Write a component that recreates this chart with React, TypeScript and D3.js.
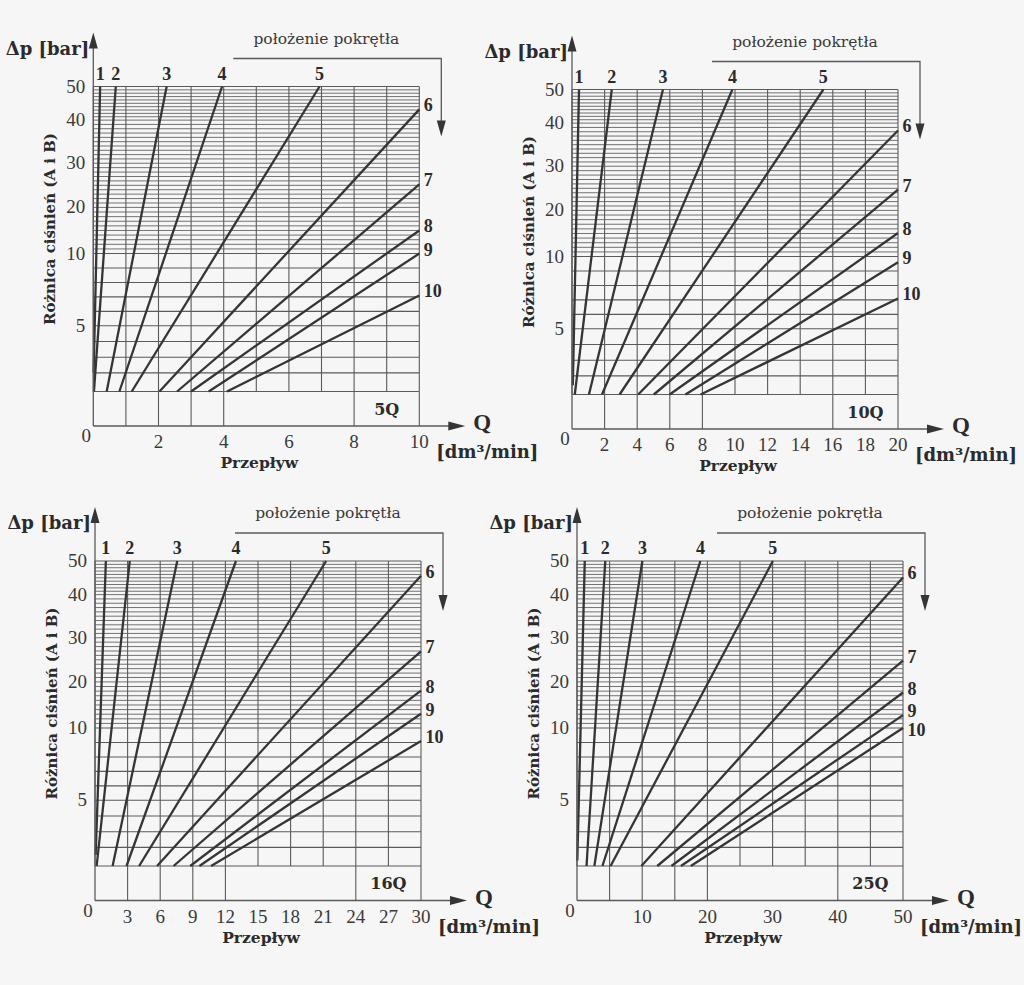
import React from 'react';
import * as d3 from 'd3';

type Pt = [number, number];

// ---------- data ----------
const SETTINGS = ['1', '2', '3', '4', '5', '6', '7', '8', '9', '10'];
const PRESSURE_TICKS = [5, 10, 20, 30, 40, 50];
const PRESSURE_GRID = [1, 2, 3, 4, 5, 6, 7, 8, 9, 10, 11, 12, 13, 14, 15, 16, 17, 18, 19, 20, 21, 22, 23, 24, 25, 26, 27, 28, 29, 30, 31, 32, 33, 34, 35, 36, 37, 38, 39, 40, 41, 42, 43, 44, 45, 46, 47, 48, 49, 50];
const PRESSURE_BREAKS = [1, 2, 5, 10, 20, 30, 40, 50];

const FLOW_TICKS_5Q = [0, 2, 4, 6, 8, 10];
const FLOW_TICKS_10Q = [0, 2, 4, 6, 8, 10, 12, 14, 16, 18, 20];
const FLOW_TICKS_16Q = [0, 3, 6, 9, 12, 15, 18, 21, 24, 27, 30];
const FLOW_TICKS_25Q = [0, 10, 20, 30, 40, 50];

// each setting line: [Q, Δp] start and end points
const LINES_5Q: Pt[][] = [
  [[0.01, 2], [0.21, 50]],
  [[0.02, 1], [0.69, 50]],
  [[0.41, 1], [2.25, 50]],
  [[0.8, 1], [3.95, 50]],
  [[1.18, 1], [6.94, 50]],
  [[2.03, 1], [10, 43.2]],
  [[2.57, 1], [10, 25.2]],
  [[3.0, 1], [10, 15.0]],
  [[3.54, 1], [10, 10.0]],
  [[4.1, 1], [10, 7.1]],
];
const LINES_10Q: Pt[][] = [
  [[0.05, 1.5], [0.43, 50]],
  [[0.17, 1], [2.44, 50]],
  [[1.04, 1], [5.58, 50]],
  [[1.84, 1], [9.84, 50]],
  [[2.92, 1], [15.42, 50]],
  [[4.06, 1], [20, 38.3]],
  [[5.02, 1], [20, 24.7]],
  [[5.99, 1], [20, 15.1]],
  [[6.96, 1], [20, 9.6]],
  [[7.89, 1], [20, 7.1]],
];
const LINES_16Q: Pt[][] = [
  [[0.06, 1.6], [1.0, 50]],
  [[0.15, 1], [3.2, 50]],
  [[1.62, 1], [7.57, 50]],
  [[2.9, 1], [12.97, 50]],
  [[4.06, 1], [21.27, 50]],
  [[5.71, 1], [30, 45.6]],
  [[7.23, 1], [30, 26.9]],
  [[8.76, 1], [30, 18.1]],
  [[9.61, 1], [30, 13.1]],
  [[10.68, 1], [30, 9.1]],
];
const LINES_25Q: Pt[][] = [
  [[0.05, 1.3], [1.19, 50]],
  [[1.46, 1], [4.34, 50]],
  [[2.66, 1], [10.03, 50]],
  [[3.9, 1], [18.93, 50]],
  [[5.15, 1], [30.04, 50]],
  [[9.87, 1], [50, 45.1]],
  [[12.31, 1], [50, 24.8]],
  [[14.48, 1], [50, 17.7]],
  [[15.94, 1], [50, 12.8]],
  [[17.46, 1], [50, 10]],
];

const PANELS = [
  { name: '5Q', qMax: 10, ticks: FLOW_TICKS_5Q, lines: LINES_5Q },
  { name: '10Q', qMax: 20, ticks: FLOW_TICKS_10Q, lines: LINES_10Q },
  { name: '16Q', qMax: 30, ticks: FLOW_TICKS_16Q, lines: LINES_16Q },
  { name: '25Q', qMax: 50, ticks: FLOW_TICKS_25Q, lines: LINES_25Q },
];

// ---------- layout / style ----------
const LAYOUT = [
  { left: 93.3, top: 86.5 },
  { left: 572, top: 89.5 },
  { left: 95, top: 561 },
  { left: 577, top: 561 },
];
const GRID_W = 326;
const GRID_H = 305;
const BOX_H = 34.5;
const BREAK_POS = [1, 0.939, 0.7845, 0.5477, 0.3964, 0.2516, 0.1102, 0];
const BOX_COLS = [1, 2, 3, 4, 8];

const DIGIT_FONT = "'Liberation Serif', 'Times New Roman', serif";
const WORD_FONT = "'DejaVu Serif', serif";
const GRID_COLOR = '#5a5a5a';
const FINE_GRID_COLOR = '#6a6a6a';
const CURVE_COLOR = '#353535';
const TEXT_COLOR = '#2b2b2b';

function Panel({ spec, layout }: { spec: typeof PANELS[number]; layout: { left: number; top: number } }) {
  const { left, top } = layout;
  const right = left + GRID_W;
  const bottom = top + GRID_H;
  const axisY = bottom + BOX_H;
  const x = d3.scaleLinear().domain([0, spec.qMax]).range([left, right]);
  const y = d3
    .scaleLinear()
    .domain(PRESSURE_BREAKS)
    .range(BREAK_POS.map((f) => top + f * GRID_H));
  const cols = d3.range(0, 11).map((i) => (spec.qMax * i) / 10);
  const lineGen = d3
    .line<Pt>()
    .x((d) => x(d[0]))
    .y((d) => y(d[1]));

  const rightLabels: { text: string; cy: number }[] = [];
  let prev = -Infinity;
  spec.lines.forEach((ln, i) => {
    const end = ln[ln.length - 1];
    if (end[1] < 50) {
      const cy = Math.max(y(end[1]) - 4, prev + 19);
      prev = cy;
      rightLabels.push({ text: SETTINGS[i], cy });
    }
  });

  const yArrowTip = top - 54;
  const xArrowTip = right + 46;
  const bracketY = top - 28;
  const bracketX = right + 22;
  const bracketTip = top + 50;

  return (
    <g>
      {PRESSURE_GRID.map((p) => {
        const fine = p > 10 && p < 50;
        return (
          <line
            key={'h' + p}
            x1={left}
            x2={right}
            y1={y(p)}
            y2={y(p)}
            stroke={fine ? FINE_GRID_COLOR : GRID_COLOR}
            strokeWidth={fine ? 0.95 : 1.1}
          />
        );
      })}
      {cols.map((q, i) => (
        <line key={'v' + i} x1={x(q)} x2={x(q)} y1={top} y2={bottom} stroke={GRID_COLOR} strokeWidth={1.1} />
      ))}
      {BOX_COLS.concat([10]).map((c) => (
        <line key={'b' + c} x1={x(cols[c])} x2={x(cols[c])} y1={bottom} y2={axisY} stroke={GRID_COLOR} strokeWidth={1.1} />
      ))}
      <text
        x={x(spec.qMax * 0.9)}
        y={bottom + BOX_H / 2 + 6}
        textAnchor="middle"
        fontFamily={WORD_FONT}
        fontWeight="bold"
        fontSize={16}
        fill={TEXT_COLOR}
      >
        {spec.name}
      </text>

      {spec.lines.map((ln, i) => (
        <path key={'c' + i} d={lineGen(ln) || ''} fill="none" stroke={CURVE_COLOR} strokeWidth={2.3} />
      ))}
      {spec.lines.map((ln, i) => {
        const end = ln[ln.length - 1];
        if (end[1] < 50) return null;
        return (
          <text
            key={'t' + i}
            x={x(end[0])}
            y={top - 7}
            textAnchor="middle"
            fontFamily={DIGIT_FONT}
            fontWeight="bold"
            fontSize={18}
            fill={TEXT_COLOR}
          >
            {SETTINGS[i]}
          </text>
        );
      })}
      {rightLabels.map((l) => (
        <text
          key={'r' + l.text}
          x={right + 4.5}
          y={l.cy + 6}
          fontFamily={DIGIT_FONT}
          fontWeight="bold"
          fontSize={18}
          fill={TEXT_COLOR}
        >
          {l.text}
        </text>
      ))}

      <line x1={left} x2={left} y1={axisY} y2={yArrowTip + 14} stroke={GRID_COLOR} strokeWidth={1.3} />
      <polygon
        points={`${left},${yArrowTip} ${left - 4.5},${yArrowTip + 16} ${left + 4.5},${yArrowTip + 16}`}
        fill={CURVE_COLOR}
      />
      <line x1={left} x2={xArrowTip - 14} y1={axisY} y2={axisY} stroke={GRID_COLOR} strokeWidth={1.3} />
      <polygon
        points={`${xArrowTip},${axisY} ${xArrowTip - 17},${axisY - 4.5} ${xArrowTip - 17},${axisY + 4.5}`}
        fill={CURVE_COLOR}
      />

      {PRESSURE_TICKS.map((p) => (
        <text
          key={'yt' + p}
          x={left - 8}
          y={y(p) + 6}
          textAnchor="end"
          fontFamily={DIGIT_FONT}
          fontSize={19}
          fill="#3a3a3a"
        >
          {p}
        </text>
      ))}
      {spec.ticks.map((q) =>
        q === 0 ? (
          <text key={'xt' + q} x={left - 7} y={axisY + 16} textAnchor="middle" fontFamily={DIGIT_FONT} fontSize={19} fill="#3a3a3a">
            0
          </text>
        ) : (
          <text key={'xt' + q} x={x(q)} y={axisY + 22} textAnchor="middle" fontFamily={DIGIT_FONT} fontSize={19} fill="#3a3a3a">
            {q}
          </text>
        )
      )}

      <text x={left - 4} y={top - 32} textAnchor="end" fontFamily={WORD_FONT} fontWeight="bold" fontSize={18} fill={TEXT_COLOR}>
        Δp [bar]
      </text>
      <text
        transform={`translate(${left - 43},${(top + bottom) / 2 - 10}) rotate(-90)`}
        textAnchor="middle"
        dominantBaseline="central"
        fontFamily={WORD_FONT}
        fontWeight="bold"
        fontSize={15}
        fill={TEXT_COLOR}
      >
        Różnica ciśnień (A i B)
      </text>
      <text x={(left + right) / 2 + 3} y={axisY + 42} textAnchor="middle" fontFamily={WORD_FONT} fontWeight="bold" fontSize={15.5} fill={TEXT_COLOR}>
        Przepływ
      </text>
      <text x={right + 54} y={axisY + 4} fontFamily={DIGIT_FONT} fontWeight="bold" fontSize={23} fill={TEXT_COLOR}>
        Q
      </text>
      <text x={right + 17} y={axisY + 32} fontFamily={WORD_FONT} fontWeight="bold" fontSize={18} fill={TEXT_COLOR}>
        [dm³/min]
      </text>

      <text x={left + 233} y={top - 43} textAnchor="middle" fontFamily={WORD_FONT} fontSize={15.5} fill="#3a3a3a">
        położenie pokrętła
      </text>
      <polyline
        points={`${left + 140},${bracketY} ${bracketX},${bracketY} ${bracketX},${bracketTip - 14}`}
        fill="none"
        stroke={GRID_COLOR}
        strokeWidth={1.3}
      />
      <polygon
        points={`${bracketX},${bracketTip} ${bracketX - 4.5},${bracketTip - 16} ${bracketX + 4.5},${bracketTip - 16}`}
        fill={CURVE_COLOR}
      />
    </g>
  );
}

export default function App() {
  return (
    <svg
      width={1024}
      height={985}
      viewBox="0 0 1024 985"
      style={{ position: 'absolute', left: 0, top: 0, background: '#f6f6f6' }}
    >
      <rect x={0} y={0} width={1024} height={985} fill="#f6f6f6" />
      {PANELS.map((p, i) => (
        <Panel key={p.name} spec={p} layout={LAYOUT[i]} />
      ))}
    </svg>
  );
}
